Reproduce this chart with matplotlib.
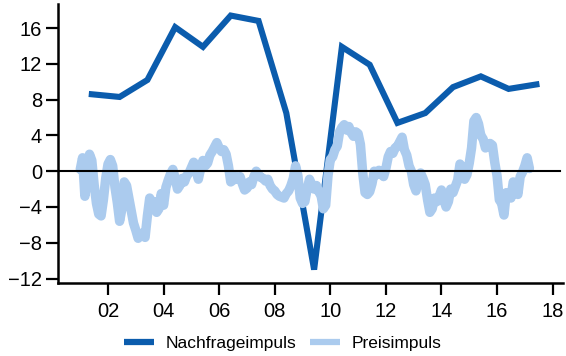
import numpy as np
import matplotlib.pyplot as plt
from matplotlib.lines import Line2D

plt.rcParams['font.family'] = ['Liberation Sans', 'DejaVu Sans']

# Nachfrageimpuls: ein Wert pro Jahr (Mitte Q2)
nachfrage_jahre = np.arange(2001, 2018) + 5 / 12
nachfrage = [8.6, 8.3, 10.2, 16.1, 13.9, 17.4, 16.8, 6.5, -11.0,
             13.9, 11.9, 5.4, 6.5, 9.4, 10.6, 9.2, 9.7]

# Preisimpuls: Monatswerte Jan 2001 - Mrz 2017
preis = [
    0.2, 1.5, -2.8, -1.0, 1.9, 1.2, -1.5, -3.6, -4.8, -5.0, -3.2, -0.8,   # 2001
    0.8, 1.3, 0.6, -1.8, -3.5, -5.6, -4.2, -1.2, -1.6, -3.0, -4.4, -5.8,  # 2002
    -6.6, -7.5, -7.2, -6.9, -7.4, -5.0, -3.0, -3.6, -3.4, -4.6, -4.2, -2.5,  # 2003
    -3.8, -1.8, -1.0, -0.3, 0.2, -0.8, -2.0, -1.6, -0.8, -1.2, -0.5, -0.2,  # 2004
    0.4, 1.0, 0.2, -0.9, 0.3, 1.2, 0.6, 0.9, 1.8, 2.2, 2.7, 3.2,          # 2005
    2.6, 2.2, 2.4, 1.9, 0.6, -1.2, -1.0, -0.6, -0.9, -0.6, -1.4, -2.1,    # 2006
    -1.9, -1.2, -1.5, -0.6, 0.0, -0.4, -0.7, -0.8, -1.1, -0.9, -1.6, -2.0,  # 2007
    -2.2, -2.6, -2.8, -2.9, -3.0, -2.5, -2.2, -1.6, -0.8, 0.6, -0.5, -3.0,  # 2008
    -3.6, -3.4, -2.0, -0.9, -1.5, -2.0, -1.6, -2.3, -2.7, -4.2, -3.8, -0.5,  # 2009
    1.3, 1.6, 2.4, 2.8, 4.4, 4.9, 5.2, 4.6, 5.0, 4.3, 3.9, 4.4,           # 2010
    4.2, 3.0, -0.2, -2.4, -2.6, -2.3, -1.4, 0.0, -0.4, 0.1, -0.3, -0.6,   # 2011
    0.3, 1.6, 2.2, 2.0, 2.6, 2.8, 3.3, 3.8, 2.4, 1.8, 0.6, 0.0,           # 2012
    -1.5, -2.2, -1.0, -0.2, -0.8, -1.5, -3.2, -4.6, -4.2, -3.0, -3.4, -2.8,  # 2013
    -2.1, -3.2, -4.0, -3.4, -2.0, -2.4, -1.7, -1.0, 0.8, 0.4, -0.9, -0.4,  # 2014
    0.9, 2.6, 5.6, 6.0, 5.3, 4.0, 3.6, 2.6, 2.8, 3.1, 2.9, 1.0,           # 2015
    -0.5, -3.2, -3.6, -4.9, -2.4, -2.6, -3.0, -1.2, -1.6, -2.6, -0.6, -0.1,  # 2016
    0.6, 1.5, 0.3,                                                        # 2017
]
preis_monate = 2001 + np.arange(len(preis)) / 12

dunkelblau = '#0b5cad'
hellblau = '#abcbee'

fig = plt.figure(figsize=(5.66, 3.56), dpi=100)
ax = fig.add_axes([0.1025, 0.205, 0.892, 0.784])

ax.plot(nachfrage_jahre, nachfrage, color=dunkelblau, lw=4.4,
        solid_joinstyle='miter', zorder=2)
ax.plot(preis_monate, preis, color=hellblau, lw=6.8,
        solid_joinstyle='round', solid_capstyle='round', zorder=3)
ax.axhline(0, color='black', lw=1.5, xmax=0.994, zorder=4)

ax.set_xlim(2000.2, 2018.37)
ax.set_ylim(-12.5, 18.7)
ax.set_yticks(range(-12, 17, 4))
ax.set_xticks(range(2002, 2019, 2))
ax.set_xticklabels(['%02d' % (j % 100) for j in range(2002, 2019, 2)])

for s in ['top', 'right']:
    ax.spines[s].set_visible(False)
for s in ['left', 'bottom']:
    ax.spines[s].set_linewidth(1.8)
ax.tick_params(axis='both', length=8.5, width=1.6, labelsize=14.5)
ax.tick_params(axis='y', pad=3)
ax.tick_params(axis='x', pad=5)

griffe = [Line2D([], [], color=dunkelblau, lw=4.5, solid_capstyle='butt'),
          Line2D([], [], color=hellblau, lw=4.5, solid_capstyle='butt')]
fig.legend(griffe, ['Nachfrageimpuls', 'Preisimpuls'], loc='center',
           bbox_to_anchor=(0.5, 0.035), ncol=2, frameon=False,
           fontsize=12.5, handlelength=1.7, handletextpad=0.7, columnspacing=0.8)

fig.savefig('out.png', dpi=100)
